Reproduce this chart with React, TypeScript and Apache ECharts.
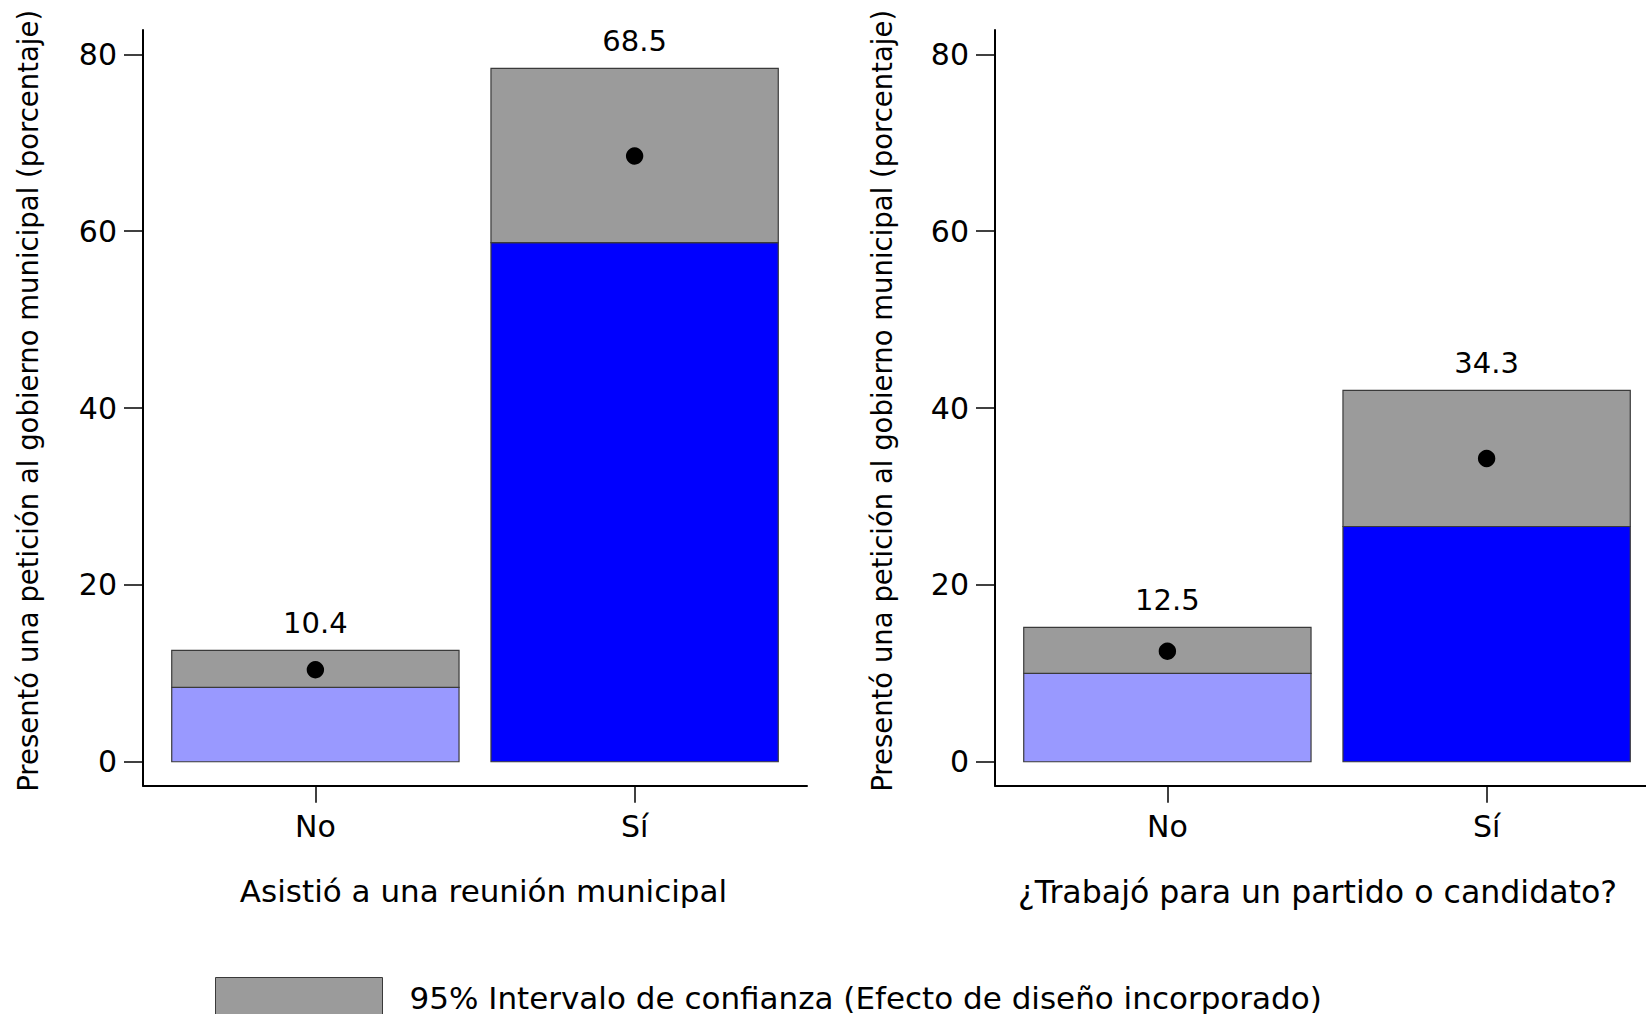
import React, { useEffect, useRef } from "react";
import * as echarts from "echarts";

// ---- data ----
const categories = ["No", "Sí"];
const categoryPos = [1, 2];
const panelTitles = [
  "Asistió a una reunión municipal",
  "¿Trabajó para un partido o candidato?",
];
const yTitle = "Presentó una petición al gobierno municipal (porcentaje)";
const legendLabel = "95% Intervalo de confianza (Efecto de diseño incorporado)";
const yTicks = [0, 20, 40, 60, 80];

const meanLeft = [10.4, 68.5];
const lowerLeft = [8.4, 58.7];
const upperLeft = [12.6, 78.4];

const meanRight = [12.5, 34.3];
const lowerRight = [10.0, 26.6];
const upperRight = [15.2, 42.0];

// ---- styles ----
const FONT = "DejaVu Sans";
const barFills = ["#9999ff", "#0000ff"];
const ciFill = "#9b9b9b";
const edge = "#3a3a3a";

function panelData(lower: number[], upper: number[], mean: number[]) {
  return categoryPos.map((x, i) => [x, lower[i], upper[i], mean[i]]);
}

function renderItem(params: any, api: any) {
  const x = api.value(0);
  const lo = api.value(1);
  const hi = api.value(2);
  const m = api.value(3);
  const half = 0.45;
  const pBase = api.coord([x - half, 0]);
  const pLo = api.coord([x + half, lo]);
  const pHi = api.coord([x + half, hi]);
  const pM = api.coord([x, m]);
  const w = pLo[0] - pBase[0];
  return {
    type: "group",
    children: [
      {
        type: "rect",
        shape: { x: pBase[0], y: pLo[1], width: w, height: pBase[1] - pLo[1] },
        style: { fill: barFills[params.dataIndex], stroke: edge, lineWidth: 1.2 },
      },
      {
        type: "rect",
        shape: { x: pBase[0], y: pHi[1], width: w, height: pLo[1] - pHi[1] },
        style: { fill: ciFill, stroke: edge, lineWidth: 1.2 },
      },
      {
        type: "circle",
        shape: { cx: pM[0], cy: pM[1], r: 8.7 },
        style: { fill: "#000" },
      },
      {
        type: "text",
        style: {
          text: m.toFixed(1),
          x: pM[0],
          y: pHi[1] - 13,
          align: "center",
          verticalAlign: "bottom",
          fontSize: 29,
          fontFamily: FONT,
          fill: "#000",
        },
      },
    ],
  };
}

export default function App() {
  const ref = useRef<HTMLDivElement>(null);
  useEffect(() => {
    if (!ref.current) return;
    const chart = echarts.init(ref.current, null, { renderer: "svg" });
    const axisColor = "#000";
    const makeX = (gridIndex: number, title: string, pad: number[], size: number) => ({
      type: "value",
      gridIndex,
      min: 0.46,
      max: 2.54,
      axisLine: { show: true, onZero: false, lineStyle: { color: axisColor, width: 2 } },
      axisTick: {
        show: true,
        length: 17,
        customValues: categoryPos,
        lineStyle: { color: axisColor, width: 1.5 },
      },
      axisLabel: {
        customValues: categoryPos,
        formatter: (v: number) => categories[Math.round(v) - 1] ?? "",
        fontSize: 30,
        fontFamily: FONT,
        color: "#000",
        margin: 26,
      },
      splitLine: { show: false },
      name: title,
      nameLocation: "middle",
      nameGap: 90,
      nameTextStyle: { fontSize: size, fontFamily: FONT, color: "#000", padding: pad },
    });
    const makeY = (gridIndex: number, gap: number) => ({
      type: "value",
      gridIndex,
      min: -2.71,
      max: 82.75,
      axisLine: { show: true, onZero: false, lineStyle: { color: axisColor, width: 2 } },
      axisTick: {
        show: true,
        length: 19,
        customValues: yTicks,
        lineStyle: { color: axisColor, width: 1.5 },
      },
      axisLabel: {
        customValues: yTicks,
        fontSize: 30,
        fontFamily: FONT,
        color: "#000",
        margin: 26,
      },
      splitLine: { show: false },
      name: yTitle,
      nameLocation: "middle",
      nameRotate: 90,
      nameGap: gap,
      nameTextStyle: {
        fontSize: 27.5,
        fontFamily: FONT,
        color: "#000",
        padding: [0, 0, 0, 14],
      },
    });
    chart.setOption({
      animation: false,
      backgroundColor: "#fff",
      grid: [
        { left: 143, top: 30, width: 664, bottom: 228.3, outerBoundsMode: "none", containLabel: false },
        { left: 995, top: 30, width: 664, bottom: 228.3, outerBoundsMode: "none", containLabel: false },
      ],
      xAxis: [
        makeX(0, panelTitles[0], [0, 0, 0, 17], 31),
        makeX(1, panelTitles[1], [0, 19, 0, 0], 31.6),
      ],
      yAxis: [makeY(0, 101), makeY(1, 99)],
      legend: {
        left: 215,
        top: 977,
        padding: 0,
        selectedMode: false,
        itemWidth: 167,
        itemHeight: 40,
        textStyle: { fontSize: 31, fontFamily: FONT, color: "#000", padding: [0, 0, 13, 22] },
        data: [
          {
            name: legendLabel,
            icon: "rect",
            itemStyle: { color: ciFill, borderColor: edge, borderWidth: 1 },
          },
        ],
      },
      series: [
        {
          type: "custom",
          name: legendLabel,
          xAxisIndex: 0,
          yAxisIndex: 0,
          itemStyle: { color: ciFill },
          renderItem,
          encode: { x: 0, y: [1, 2, 3] },
          data: panelData(lowerLeft, upperLeft, meanLeft),
        },
        {
          type: "custom",
          name: legendLabel,
          xAxisIndex: 1,
          yAxisIndex: 1,
          itemStyle: { color: ciFill },
          renderItem,
          encode: { x: 0, y: [1, 2, 3] },
          data: panelData(lowerRight, upperRight, meanRight),
        },
      ],
    });
    return () => chart.dispose();
  }, []);
  return (
    <div
      ref={ref}
      style={{ position: "absolute", left: 0, top: 0, width: 1646, height: 1014 }}
    />
  );
}
